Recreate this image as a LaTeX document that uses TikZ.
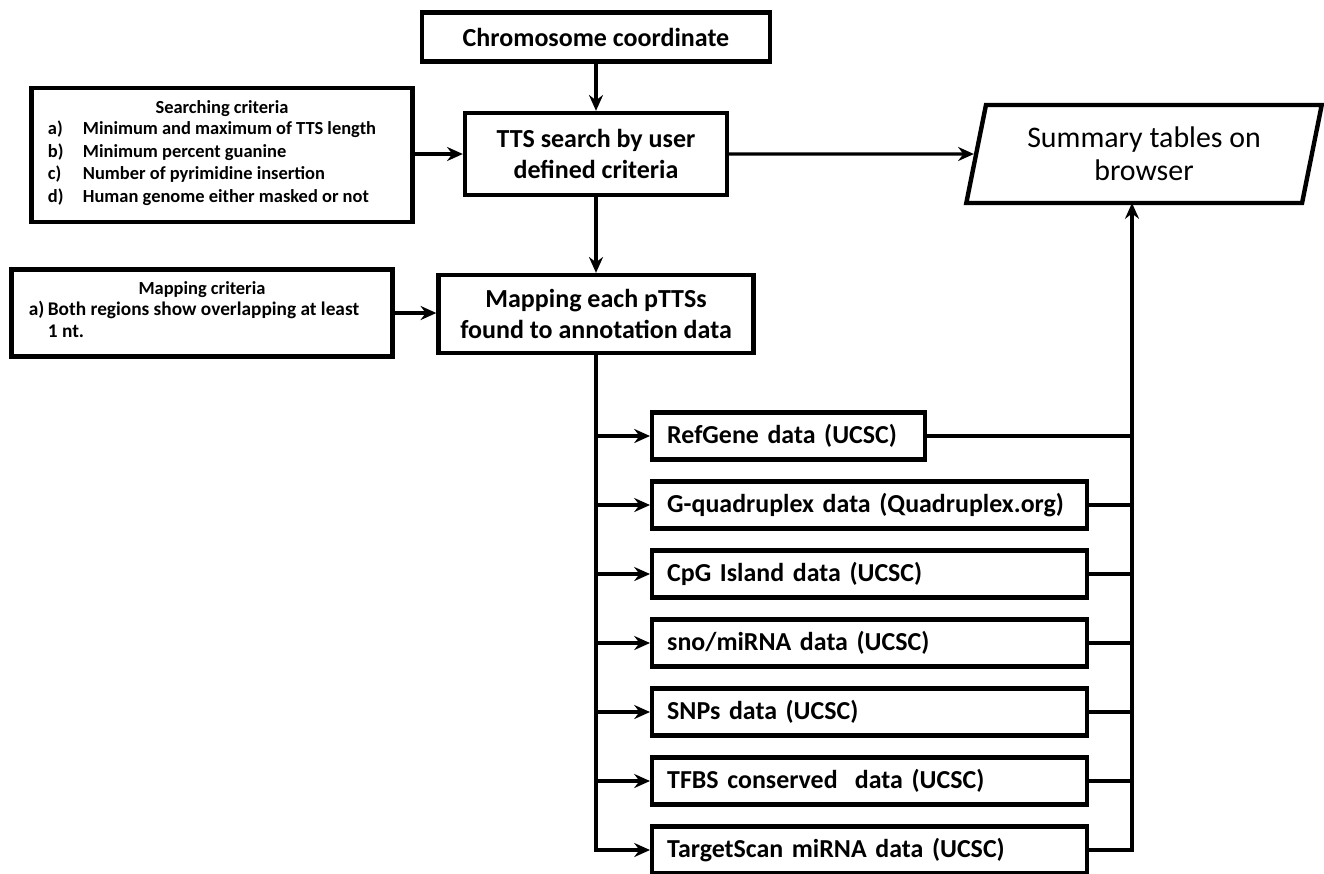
\documentclass[tikz,border=0pt]{standalone}
\usepackage{fontspec}
\setmainfont{Carlito}
\usetikzlibrary{arrows.meta,shapes.geometric}

\tikzset{
  mainbox/.style={draw, line width=2.5pt, align=center, inner sep=0pt,
    font=\bfseries\fontsize{14.8}{17.5}\selectfont},
  databox/.style={draw, line width=2.5pt, anchor=west, align=left,
    minimum height=0.94cm, inner xsep=0.3cm, inner ysep=0pt,
    font=\bfseries\fontsize{14.75}{17}\selectfont},
  critbox/.style={draw, line width=2.5pt, align=center, inner sep=0pt,
    minimum width=7.62cm, font=\bfseries\fontsize{10.5}{13}\selectfont},
  conn/.style={line width=1.9pt},
  >={Stealth[length=9pt,width=8pt,inset=3pt]}
}

\begin{document}
\begin{tikzpicture}[x=0.02cm,y=-0.02cm]
    \useasboundingbox (0,0) rectangle (1324,873);

    % Main column
    \node[mainbox, minimum width=6.96cm, minimum height=0.98cm] (chrom) at (596,37) {Chromosome coordinate};
    \node[mainbox, minimum width=5.24cm, minimum height=1.64cm] (tts) at (596,154) {TTS search by user\\defined criteria};
    \node[mainbox, minimum width=6.3cm, minimum height=1.56cm] (mapping) at (596,314) {Mapping each pTTSs\\found to annotation data};

    % Criteria boxes
    \node[critbox, minimum height=2.68cm] (search) at (222,155) {Searching criteria\\
      \begin{tabular}{@{}p{0.7cm}@{}l@{}}
        a) & Minimum and maximum of TTS length\\
        b) & Minimum percent guanine\\
        c) & Number of pyrimidine insertion\\
        d) & Human genome either masked or not
      \end{tabular}\hspace*{0.4cm}};
    \node[critbox, minimum height=1.74cm] (mapcrit) at (202,313) {Mapping criteria\\
      {\fontsize{11}{13}\selectfont
      \begin{tabular}{@{}p{0.38cm}@{}l@{}}
        a) & Both regions show overlapping at least\\
           & 1 nt.
      \end{tabular}}\hspace*{0.32cm}};

    % Output
    \node[draw, line width=2.5pt, trapezium, trapezium left angle=77, trapezium right angle=103,
      trapezium stretches, minimum width=7.12cm, minimum height=1.96cm, align=center,
      font=\fontsize{17}{19}\selectfont] (summary) at (1144,154) {Summary tables on\\browser};
    \coordinate (sumbot) at (1132,203);

    % Annotation data
    \node[databox, text width=4.86cm] (d1) at (650,436) {RefGene data (UCSC)};
    \node[databox, text width=8.1cm] (d2) at (650,505) {\mbox{G-quadruplex data (Quadruplex.org)}};
    \node[databox, text width=8.1cm] (d3) at (650,574) {CpG Island data (UCSC)};
    \node[databox, text width=8.1cm] (d4) at (650,643) {sno/miRNA data (UCSC)};
    \node[databox, text width=8.1cm] (d5) at (650,712) {SNPs data (UCSC)};
    \node[databox, text width=8.1cm] (d6) at (650,781) {TFBS conserved\ \ data (UCSC)};
    \node[databox, text width=8.1cm] (d7) at (650,850) {TargetScan miRNA data (UCSC)};

    % Connectors
    \draw[conn,->] (chrom) -- (tts);
    \draw[conn,->] (tts) -- (mapping);
    \draw[conn,->] (search.east |- tts) -- (tts);
    \draw[conn,->] (mapcrit) -- (mapping.west |- mapcrit);
    \draw[conn,->] (tts) -- (summary);
    \foreach \n in {d1,d2,d3,d4,d5,d6,d7}
        \draw[conn,->] (mapping.south) |- (\n.west);
    \foreach \n in {d1,d2,d3,d4,d5,d6}
        \draw[conn] (\n.east) -- (\n.east -| sumbot);
    \draw[conn,->] (d7.east) -| (sumbot);
\end{tikzpicture}
\end{document}
